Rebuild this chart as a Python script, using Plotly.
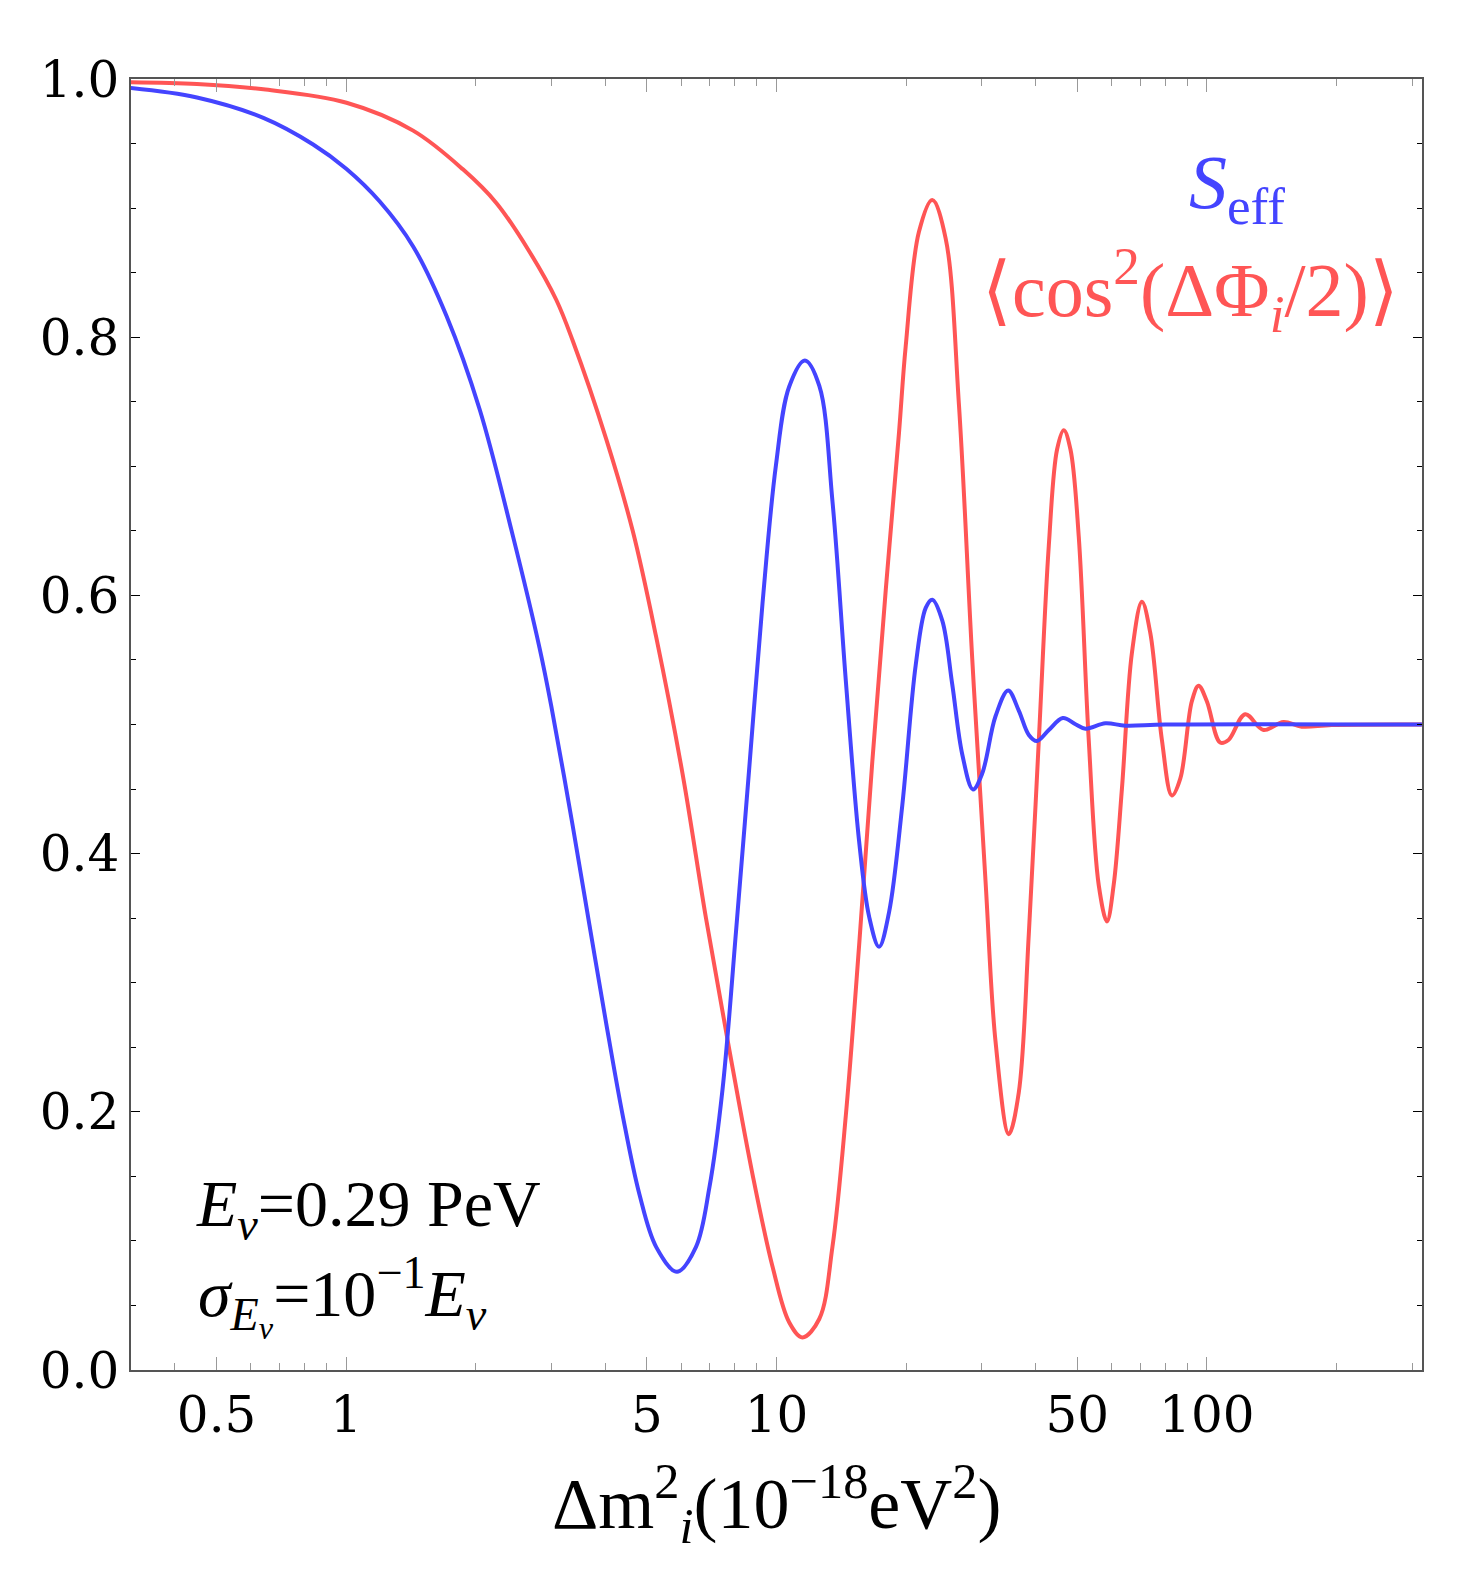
import plotly.graph_objects as go

# Delta m^2 values (10^-18 eV^2) and curve values
blue_x = [0.316, 0.450, 0.642, 0.838, 1.002, 1.197, 1.431, 1.710, 2.043, 2.440,
          2.814, 2.996, 3.363, 3.676, 4.021, 4.392, 4.802, 5.251, 5.873, 6.501,
          6.982, 7.492, 8.052, 8.645, 9.279, 9.968, 10.70, 11.64, 12.57, 13.49,
          14.49, 15.56, 16.41, 17.31, 18.26, 19.60, 21.06, 22.22, 23.01, 24.28,
          25.61, 27.02, 28.61, 30.06, 32.28, 34.54, 36.56, 38.58, 40.27, 42.93,
          46.27, 49.52, 52.24, 58.12, 64.67, 80.09, 316]
blue_y = [0.993, 0.9857, 0.9699, 0.9493, 0.9303, 0.9051, 0.8703, 0.8166, 0.7440, 0.6461,
          0.5594, 0.5145, 0.421, 0.3446, 0.2683, 0.1971, 0.1361, 0.0954, 0.0761, 0.0954,
          0.1412, 0.2175, 0.3396, 0.4667, 0.5938, 0.7006, 0.7616, 0.782, 0.7624, 0.673,
          0.534, 0.4094, 0.3514, 0.3278, 0.3545, 0.4373, 0.5459, 0.5903, 0.5967, 0.5805,
          0.5311, 0.4768, 0.4497, 0.462, 0.5064, 0.5263, 0.5108, 0.4919, 0.4872, 0.4957,
          0.505, 0.5002, 0.4967, 0.5009, 0.4991, 0.5, 0.5]

red_x = [0.316, 0.450, 0.642, 1.002, 1.431, 1.868, 2.233, 2.669, 3.077, 3.363,
         4.021, 4.633, 5.251, 6.051, 6.859, 7.770, 8.798, 9.788, 10.70, 11.49,
         12.57, 13.49, 14.49, 15.56, 16.70, 17.94, 19.26, 19.96, 21.43, 23.01,
         24.72, 26.54, 28.50, 30.61, 32.28, 34.67, 36.56, 38.58, 40.70, 42.93,
         44.87, 46.51, 48.21, 50.39, 53.16, 56.08, 58.61, 60.74, 63.50, 66.99,
         70.67, 73.91, 78.63, 82.94, 86.75, 92.29, 95.68, 100.0, 107.4, 112.3,
         122.8, 135.4, 150.7, 166.1, 195.0, 316]
red_y = [0.9975, 0.9962, 0.992, 0.9816, 0.960, 0.930, 0.904, 0.866, 0.829, 0.797,
         0.721, 0.650, 0.568, 0.4616, 0.3497, 0.248, 0.1514, 0.0802, 0.037, 0.0252,
         0.0395, 0.0954, 0.197, 0.329, 0.4717, 0.604, 0.726, 0.7927, 0.8816, 0.9063,
         0.8766, 0.748, 0.551, 0.378, 0.2546, 0.1827, 0.215, 0.338, 0.488, 0.6385,
         0.713, 0.728, 0.713, 0.6457, 0.488, 0.3756, 0.3475, 0.3756, 0.4506, 0.5557,
         0.595, 0.5707, 0.488, 0.445, 0.458, 0.518, 0.530, 0.518, 0.486, 0.488,
         0.508, 0.4957, 0.502, 0.4983, 0.4996, 0.5]

x_tickvals = [0.5, 1, 5, 10, 50, 100]
x_ticktext = ["0.5", "1", "5", "10", "50", "100"]
x_minorvals = [0.4, 0.6, 0.7, 0.8, 0.9, 2, 3, 4, 6, 7, 8, 9,
               20, 30, 40, 60, 70, 80, 90, 200, 300]
y_tickvals = [0.0, 0.2, 0.4, 0.6, 0.8, 1.0]
y_ticktext = ["0.0", "0.2", "0.4", "0.6", "0.8", "1.0"]

BLUE = "#4444ff"
RED = "#ff5555"
FONT = "Liberation Serif"
TICKFONT = "DejaVu Serif"

fig = go.Figure()
fig.add_trace(go.Scatter(x=red_x, y=red_y, mode="lines",
                         line=dict(color=RED, width=4, shape="spline", smoothing=1.0),
                         showlegend=False))
fig.add_trace(go.Scatter(x=blue_x, y=blue_y, mode="lines",
                         line=dict(color=BLUE, width=4, shape="spline", smoothing=1.0),
                         showlegend=False))

W, H = 1471, 1575
L, R, T, B = 131, 49, 79, 205

fig.update_layout(
    width=W, height=H,
    margin=dict(l=L, r=R, t=T, b=B),
    paper_bgcolor="white", plot_bgcolor="white",
    font=dict(family=FONT, color="black"),
    xaxis=dict(
        type="log", range=[-0.5, 2.5],
        tickmode="array", tickvals=x_tickvals, ticktext=x_ticktext,
        ticks="inside", ticklen=13, tickwidth=1, tickcolor="#999999",
        minor=dict(tickmode="array", tickvals=x_minorvals, ticks="inside",
                   ticklen=7, tickwidth=1, tickcolor="#999999", showgrid=False),
        showgrid=False, zeroline=False,
        showline=True, linecolor="#555555", linewidth=1.5, mirror="ticks",
        tickfont=dict(size=50, family=TICKFONT),
    ),
    yaxis=dict(
        range=[0, 1],
        tickmode="array", tickvals=y_tickvals, ticktext=y_ticktext,
        ticks="inside", ticklen=9, tickwidth=1, tickcolor="black",
        minor=dict(dtick=0.05, ticks="inside", ticklen=5, tickwidth=1,
                   tickcolor="black", showgrid=False),
        showgrid=False, zeroline=False,
        showline=True, linecolor="#555555", linewidth=1.5, mirror="ticks",
        tickfont=dict(size=50, family=TICKFONT),
    ),
)

def px2paper(px, py):
    return (px - L) / (W - L - R), (H - B - py) / (H - T - B)

annots = [
    ("<i>S</i><sub>eff</sub>", 1237, 188, "center", BLUE, 76),
    ("⟨cos<sup>2</sup>(ΔΦ<sub><i>i</i></sub>/2)⟩", 1190, 290, "center", RED, 76),
    ("<i>E<sub>ν</sub></i>=0.29 PeV", 194, 1208, "left", "black", 66),
    ("<i>σ</i><sub><i>E<sub>ν</sub></i></sub>=10<sup>−1</sup><i>E<sub>ν</sub></i>", 196, 1296, "left", "black", 66),
    ("Δm<sup>2</sup><sub><i>i</i></sub>(10<sup>−18</sup>eV<sup>2</sup>)", 776, 1503, "center", "black", 72),
]
for text, px, py, anchor, color, size in annots:
    ax, ay = px2paper(px, py)
    fig.add_annotation(text=text, x=ax, y=ay, xref="paper", yref="paper",
                       xanchor=anchor, yanchor="middle", showarrow=False,
                       font=dict(size=size, color=color, family=FONT))

fig.write_html("out.html")
